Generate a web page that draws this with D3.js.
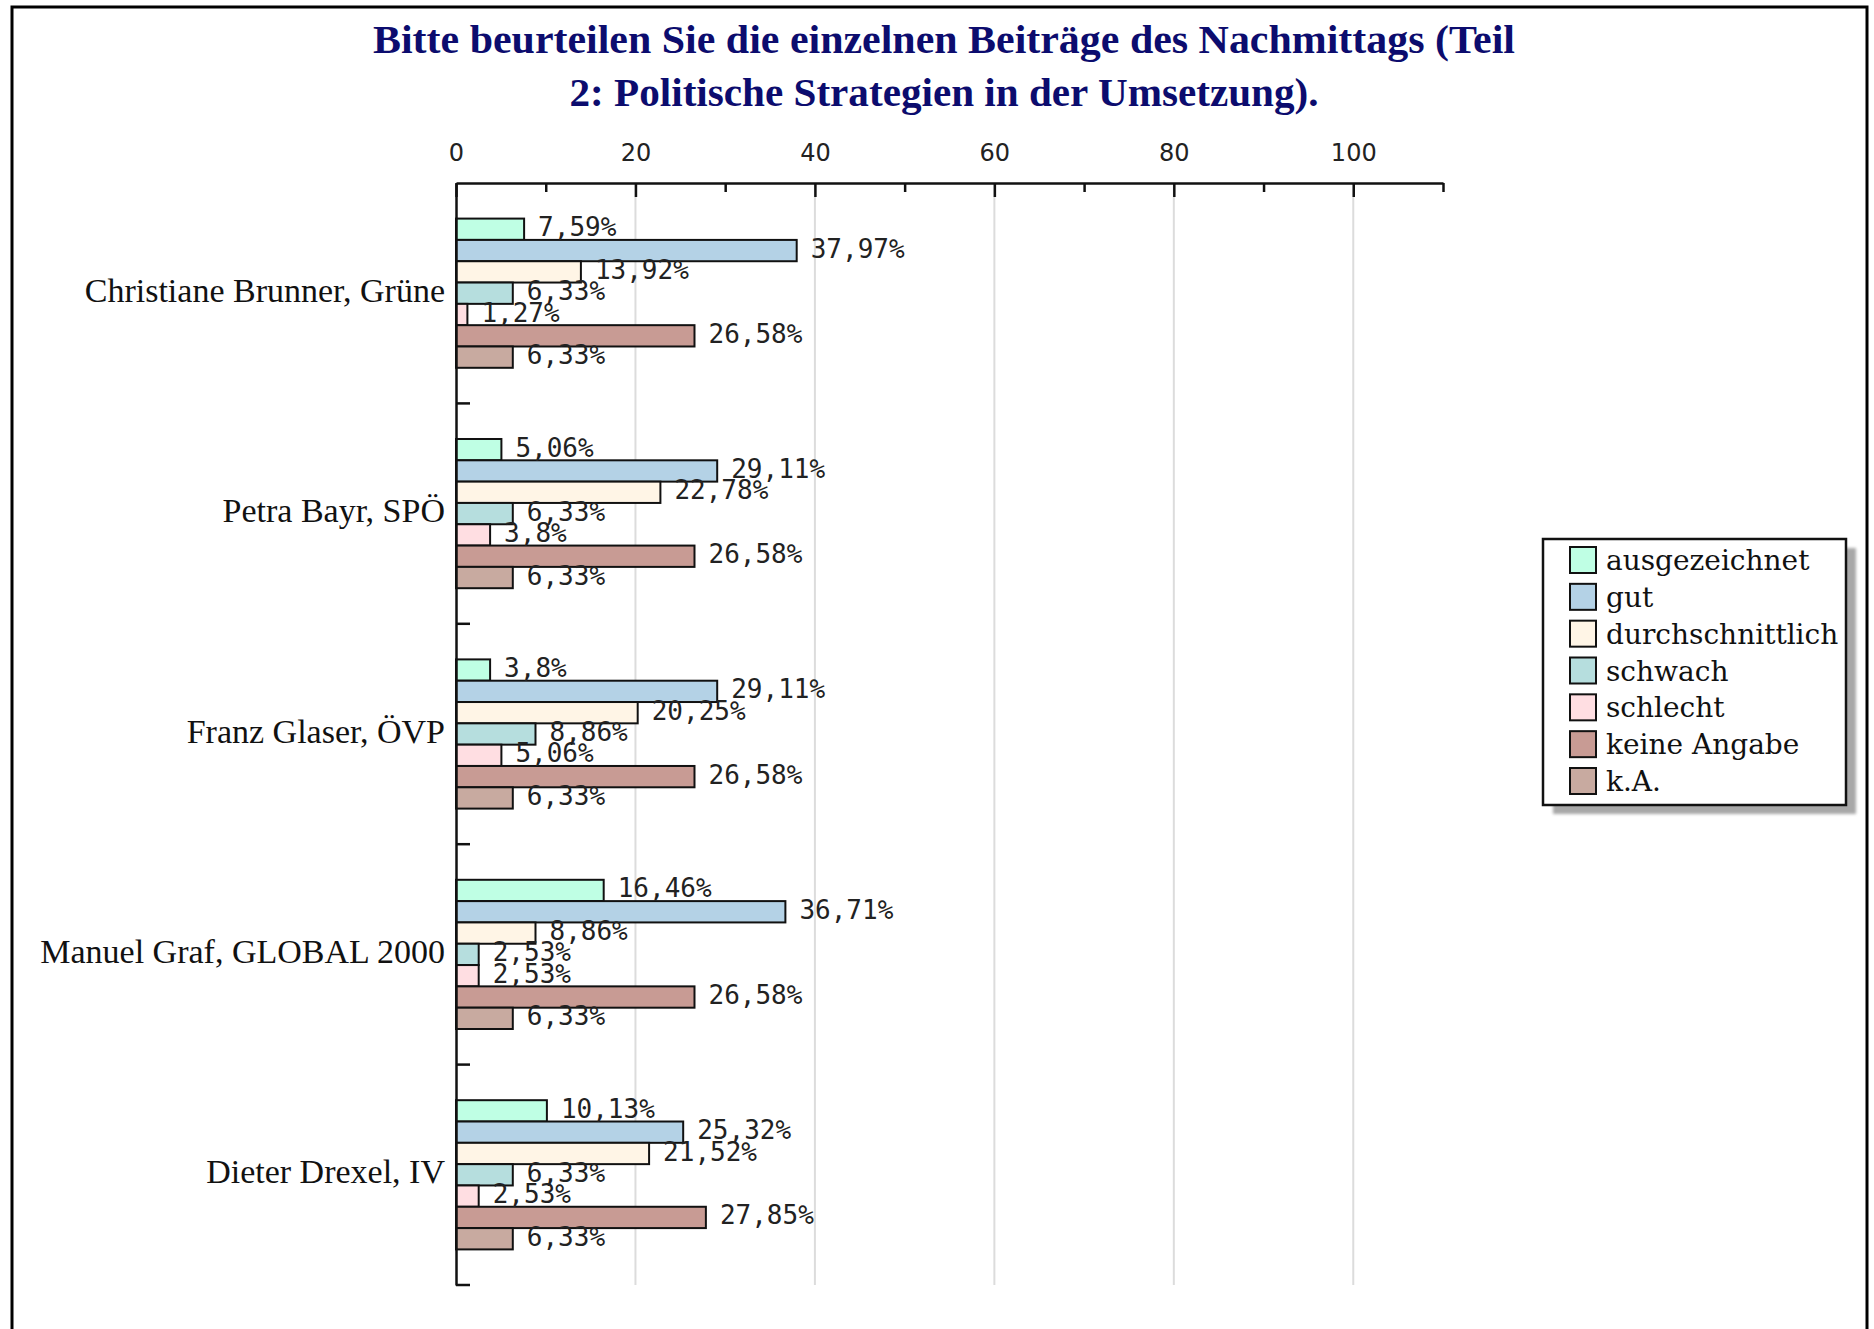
<!DOCTYPE html>
<html>
<head>
<meta charset="utf-8">
<script src="https://cdn.jsdelivr.net/npm/d3@7"></script>
<style>
  html, body { margin: 0; padding: 0; background: #fff; }
  svg { display: block; }
</style>
</head>
<body>
<svg id="chart"></svg>
<script>
// data
const categories = [
  "Christiane Brunner, Grüne",
  "Petra Bayr, SPÖ",
  "Franz Glaser, ÖVP",
  "Manuel Graf, GLOBAL 2000",
  "Dieter Drexel, IV"
];
const seriesNames = ["ausgezeichnet", "gut", "durchschnittlich", "schwach", "schlecht", "keine Angabe", "k.A."];
const ausgezeichnet = [7.59, 5.06, 3.8, 16.46, 10.13];
const gut = [37.97, 29.11, 29.11, 36.71, 25.32];
const durchschnittlich = [13.92, 22.78, 20.25, 8.86, 21.52];
const schwach = [6.33, 6.33, 8.86, 2.53, 6.33];
const schlecht = [1.27, 3.8, 5.06, 2.53, 2.53];
const keineAngabe = [26.58, 26.58, 26.58, 26.58, 27.85];
const kA = [6.33, 6.33, 6.33, 6.33, 6.33];
const seriesValues = [ausgezeichnet, gut, durchschnittlich, schwach, schlecht, keineAngabe, kA];
const majorTicks = [0, 20, 40, 60, 80, 100];
const minorTicks = [10, 30, 50, 70, 90, 110];
const titleLines = [
  "Bitte beurteilen Sie die einzelnen Beiträge des Nachmittags (Teil",
  "2: Politische Strategien in der Umsetzung)."
];
const colors = ["#bfffe4", "#b4d2e6", "#fff5e6", "#b6dede", "#ffdee2", "#c89b94", "#c8aaa0"];

const W = 1874, H = 1329;
const svg = d3.select("#chart").attr("width", W).attr("height", H);

// outer frame
svg.append("rect")
  .attr("x", 12).attr("y", 7)
  .attr("width", 1855).attr("height", H + 20)
  .attr("fill", "#fff")
  .attr("stroke", "#000")
  .attr("stroke-width", 3);

// title
svg.append("g").selectAll("text")
  .data(titleLines)
  .enter().append("text")
  .attr("x", 944)
  .attr("y", (d, i) => 53 + i * 53)
  .attr("text-anchor", "middle")
  .attr("textLength", (d, i) => i === 0 ? 1142 : 749)
  .attr("lengthAdjust", "spacingAndGlyphs")
  .style("font-family", "'Liberation Serif', serif")
  .style("font-weight", "bold")
  .style("font-size", "40px")
  .style("fill", "#0c0c6e")
  .text(d => d);

// scales
const x = d3.scaleLinear().domain([0, 110]).range([456, 1443]);
const y = d3.scaleBand().domain(categories).range([183, 1285]).padding(0);
const ySeries = d3.scaleBand()
  .domain(seriesNames)
  .range([0, y.bandwidth()])
  .paddingInner(0)
  .paddingOuter(1.67);

const color = d3.scaleOrdinal().domain(seriesNames).range(colors);

// gridlines
svg.append("g").selectAll("line")
  .data(majorTicks.filter(t => t > 0))
  .enter().append("line")
  .attr("x1", d => x(d)).attr("x2", d => x(d))
  .attr("y1", y.range()[0]).attr("y2", y.range()[1])
  .attr("stroke", "#dcdcdc")
  .attr("stroke-width", 2);

// bars
const rows = [];
categories.forEach((c, ci) => {
  seriesNames.forEach((s, si) => {
    rows.push({ cat: c, series: s, value: seriesValues[si][ci] });
  });
});

const fmt = v => String(v).replace(".", ",") + "%";

const barG = svg.append("g");
barG.selectAll("rect")
  .data(rows)
  .enter().append("rect")
  .attr("x", x(0))
  .attr("y", d => y(d.cat) + ySeries(d.series))
  .attr("width", d => x(d.value) - x(0))
  .attr("height", ySeries.bandwidth())
  .attr("fill", d => color(d.series))
  .attr("stroke", "#111")
  .attr("stroke-width", 2);

// value labels
svg.append("g").selectAll("text")
  .data(rows)
  .enter().append("text")
  .attr("x", d => x(d.value) + 14)
  .attr("y", d => y(d.cat) + ySeries(d.series) + ySeries.bandwidth() / 2)
  .attr("dy", "0.27em")
  .style("font-family", "'DejaVu Sans Mono', monospace")
  .style("font-size", "26px")
  .style("fill", "#222")
  .text(d => fmt(d.value));

// top axis: major ticks with labels
const axisMajor = d3.axisTop(x)
  .tickValues(majorTicks)
  .tickSizeInner(-14)
  .tickSizeOuter(0)
  .tickPadding(22)
  .tickFormat(d3.format("d"));

const gx = svg.append("g")
  .attr("transform", `translate(0, ${y.range()[0]})`)
  .call(axisMajor);
gx.select(".domain").attr("stroke", "#111").attr("stroke-width", 2.5);
gx.selectAll(".tick line").attr("stroke", "#111").attr("stroke-width", 2.5);
gx.selectAll(".tick text")
  .style("font-family", "'DejaVu Sans', sans-serif")
  .style("font-size", "24px")
  .style("fill", "#222");

// minor ticks
const axisMinor = d3.axisTop(x)
  .tickValues(minorTicks)
  .tickSizeInner(-9)
  .tickSizeOuter(0)
  .tickFormat("");
const gxm = svg.append("g")
  .attr("transform", `translate(0, ${y.range()[0]})`)
  .call(axisMinor);
gxm.select(".domain").remove();
gxm.selectAll(".tick line").attr("stroke", "#111").attr("stroke-width", 2.5);

// left axis: category labels
const gy = svg.append("g")
  .attr("transform", `translate(${x(0)}, 0)`)
  .call(d3.axisLeft(y).tickSize(0).tickPadding(11));
gy.select(".domain").attr("stroke", "#111").attr("stroke-width", 2.5);
gy.selectAll(".tick text")
  .attr("dy", "0.25em")
  .style("font-family", "'Liberation Serif', serif")
  .style("font-size", "34px")
  .style("fill", "#111");

// category boundary ticks
const bounds = categories.map(c => y(c) + y.bandwidth());
svg.append("g").selectAll("line")
  .data(bounds)
  .enter().append("line")
  .attr("x1", x(0)).attr("x2", x(0) + 14)
  .attr("y1", d => d).attr("y2", d => d)
  .attr("stroke", "#111")
  .attr("stroke-width", 2.5);

// legend
const legX = 1543, legY = 539, legW = 303, legH = 266;
const defs = svg.append("defs");
defs.append("filter").attr("id", "blur")
  .append("feGaussianBlur").attr("stdDeviation", 1.5);

svg.append("rect")
  .attr("x", legX + 10).attr("y", legY + 9)
  .attr("width", legW).attr("height", legH)
  .attr("fill", "#a8a8a8")
  .attr("filter", "url(#blur)");
svg.append("rect")
  .attr("x", legX).attr("y", legY)
  .attr("width", legW).attr("height", legH)
  .attr("fill", "#fff")
  .attr("stroke", "#111")
  .attr("stroke-width", 2.5);

const legStep = (781 - 560) / (seriesNames.length - 1);
const leg = svg.append("g").selectAll("g")
  .data(seriesNames)
  .enter().append("g")
  .attr("transform", (d, i) => `translate(${legX + 27}, ${legY + 21 + i * legStep})`);

leg.append("rect")
  .attr("x", 0).attr("y", -13)
  .attr("width", 26).attr("height", 26)
  .attr("fill", d => color(d))
  .attr("stroke", "#111")
  .attr("stroke-width", 2);

leg.append("text")
  .attr("x", 36)
  .attr("y", 0)
  .attr("dy", "0.36em")
  .style("font-family", "'DejaVu Serif', serif")
  .style("font-size", "28px")
  .style("fill", "#111")
  .text(d => d);
</script>
</body>
</html>
